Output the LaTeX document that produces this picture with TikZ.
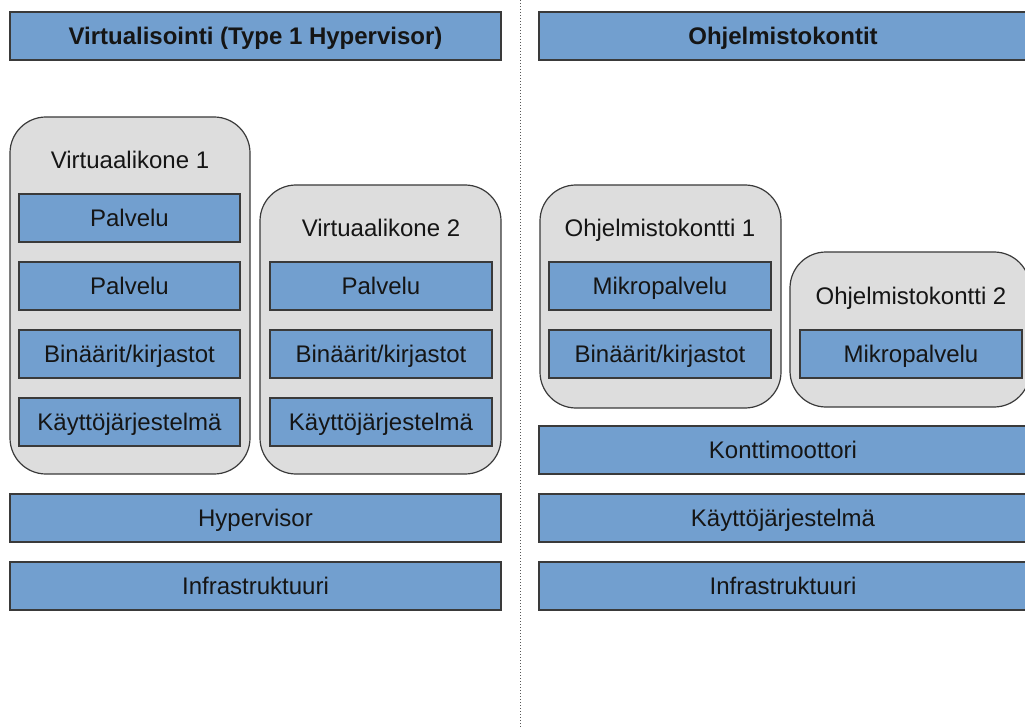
\documentclass[tikz,border=0pt]{standalone}
\usepackage{fontspec}
\setmainfont{Liberation Sans}
\definecolor{layerblue}{HTML}{729FCF}
\definecolor{boxgray}{HTML}{DDDDDD}
\definecolor{edge}{HTML}{3A3A3A}
\definecolor{ink}{HTML}{151515}
\tikzset{
  capcentred/.style={text height=17.2pt, text depth=0pt},
  layer/.style={draw=edge, line width=1.2pt, fill=layerblue, rectangle,
    minimum height=48pt, inner sep=0pt, outer sep=0pt, text=ink, capcentred,
    font=\fontsize{24}{28}\selectfont},
  headlayer/.style={layer, font=\fontsize{24}{28}\selectfont\bfseries},
  vmbox/.style={draw=edge, line width=1.2pt, fill=boxgray, rectangle,
    rounded corners=36pt, inner sep=0pt, outer sep=0pt},
  vmtitle/.style={text=ink, inner sep=0pt, capcentred,
    font=\fontsize{24}{28}\selectfont}
}
\begin{document}
\begin{tikzpicture}[x=1pt, y=-1pt]
\useasboundingbox (0,0) rectangle (1025,727);
\fill[white] (0,0) rectangle (1025,727);

% separator between the two halves
\draw[dotted, line width=1pt, gray!70!black] (520,0) -- (520,727);

% ---------------- left half: virtualisation ----------------
\node[headlayer, minimum width=491pt] (hdL) at (255.5,36) {Virtualisointi (Type 1 Hypervisor)};

\node[vmbox, minimum width=240pt, minimum height=357pt] (vm1) at (130,295.5) {};
\node[vmtitle] (vm1t) at (130,160) {Virtuaalikone 1};
\node[layer, minimum width=221pt] (vm1a) at (129.5,218) {Palvelu};
\node[layer, minimum width=221pt] (vm1b) at (129.5,286) {Palvelu};
\node[layer, minimum width=221pt] (vm1c) at (129.5,354) {Binäärit/kirjastot};
\node[layer, minimum width=221pt] (vm1d) at (129.5,422) {Käyttöjärjestelmä};

\node[vmbox, minimum width=241pt, minimum height=289pt] (vm2) at (380.5,329.5) {};
\node[vmtitle] (vm2t) at (381,228) {Virtuaalikone 2};
\node[layer, minimum width=222pt] (vm2a) at (381,286) {Palvelu};
\node[layer, minimum width=222pt] (vm2b) at (381,354) {Binäärit/kirjastot};
\node[layer, minimum width=222pt] (vm2c) at (381,422) {Käyttöjärjestelmä};

\node[layer, minimum width=491pt] (hyp) at (255.5,518) {Hypervisor};
\node[layer, minimum width=491pt] (infL) at (255.5,586) {Infrastruktuuri};

% ---------------- right half: containers ----------------
\node[headlayer, minimum width=488pt] (hdR) at (783,36) {Ohjelmistokontit};

\node[vmbox, minimum width=241pt, minimum height=223pt] (ct1) at (660.5,296.5) {};
\node[vmtitle] (ct1t) at (660,228) {Ohjelmistokontti 1};
\node[layer, minimum width=222pt] (ct1a) at (660,286) {Mikropalvelu};
\node[layer, minimum width=222pt] (ct1b) at (660,354) {Binäärit/kirjastot};

\node[vmbox, minimum width=240pt, minimum height=155pt] (ct2) at (910,329.5) {};
\node[vmtitle] (ct2t) at (911,296) {Ohjelmistokontti 2};
\node[layer, minimum width=222pt] (ct2a) at (911,354) {Mikropalvelu};

\node[layer, minimum width=488pt] (eng) at (783,450) {Konttimoottori};
\node[layer, minimum width=488pt] (osR) at (783,518) {Käyttöjärjestelmä};
\node[layer, minimum width=488pt] (infR) at (783,586) {Infrastruktuuri};
\end{tikzpicture}
\end{document}
